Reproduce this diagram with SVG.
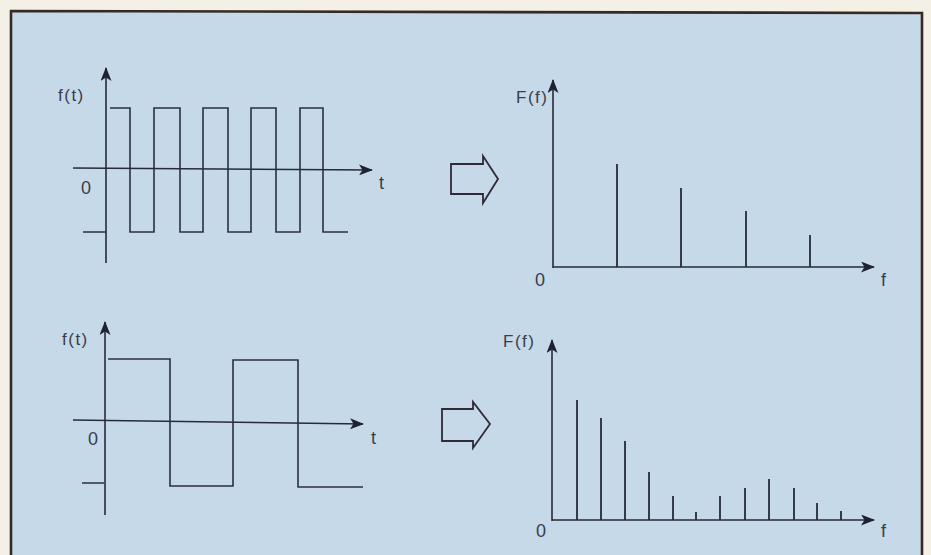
<svg xmlns="http://www.w3.org/2000/svg" width="931" height="555" viewBox="0 0 931 555">
<defs>
<marker id="ah" viewBox="0 0 14 11" refX="13" refY="5.5" markerWidth="14" markerHeight="11" markerUnits="userSpaceOnUse" orient="auto">
<path d="M0,0 L14,5.5 L0,11 L3.5,5.5 Z" fill="#1e2233"/>
</marker>
<style>
.ax{stroke:#262a3a;stroke-width:1.6;fill:none}
.sig{stroke:#2c2f44;stroke-width:1.6;fill:none}
.ln{stroke:#262a3a;stroke-width:1.8}
.big{stroke:#302a34;stroke-width:1.8;fill:none;stroke-linejoin:miter}
text{font-family:"Liberation Sans",Arial,sans-serif;fill:#3a3d48;font-size:17px}
.fn{letter-spacing:1.5px}
.lb{font-size:18px}
</style>
</defs>
<rect x="0" y="0" width="931" height="555" fill="#f4f0e6"/>
<path d="M11,11 L922,13 L922,555 L11,555 Z" fill="#c6d9e9"/>
<path d="M11,555 L11,11 L922,13 L922,555" fill="none" stroke="#352a24" stroke-width="2.6"/>

<g id="top-time">
<line class="ax" x1="106" y1="263" x2="106" y2="68" marker-end="url(#ah)"/>
<line class="ax" x1="73" y1="168" x2="372" y2="170" marker-end="url(#ah)"/>
<text class="fn" x="58" y="101">f(t)</text>
<text class="lb" x="81" y="194">0</text>
<text class="lb" x="379" y="189">t</text>
<path class="sig" d="M83,232 L106,232 M110,108 L130,108 L130,232 L154,232 L154,108 L180,108 L180,232 L203,232 L203,108 L228,108 L228,232 L251,232 L251,108 L276,108 L276,232 L300,232 L300,108 L323,108 L323,232 L348,232"/>
</g>

<g id="top-arrow">
<path class="big" d="M451,164 L483,164 L483,156 L498,179 L483,203 L483,194 L451,194 Z"/>
</g>

<g id="top-spectrum">
<line class="ax" x1="553" y1="268" x2="553" y2="80" marker-end="url(#ah)"/>
<line class="ax" x1="553" y1="267" x2="874" y2="267" marker-end="url(#ah)"/>
<text class="fn" x="516" y="103">F(f)</text>
<text class="lb" x="535" y="286">0</text>
<text class="lb" x="881" y="286">f</text>
<line class="ln" x1="617" y1="267" x2="617" y2="164"/>
<line class="ln" x1="681" y1="267" x2="681" y2="188"/>
<line class="ln" x1="746" y1="267" x2="746" y2="211"/>
<line class="ln" x1="810" y1="267" x2="810" y2="235"/>
</g>

<g id="bottom-time">
<line class="ax" x1="105" y1="515" x2="105" y2="322" marker-end="url(#ah)"/>
<line class="ax" x1="73" y1="420" x2="363" y2="424" marker-end="url(#ah)"/>
<text class="fn" x="62" y="345">f(t)</text>
<text class="lb" x="88" y="445">0</text>
<text class="lb" x="371" y="444">t</text>
<path class="sig" d="M82,483 L104,483 M108,359 L170,359 L170,486 L233,486 L233,360 L298,360 L298,487 L363,487"/>
</g>

<g id="bottom-arrow">
<path class="big" d="M442,409 L473,409 L473,402 L490,424 L473,448 L473,441 L442,441 Z"/>
</g>

<g id="bottom-spectrum">
<line class="ax" x1="552" y1="521" x2="552" y2="340" marker-end="url(#ah)"/>
<line class="ax" x1="552" y1="520" x2="874" y2="520" marker-end="url(#ah)"/>
<text class="fn" x="503" y="347">F(f)</text>
<text class="lb" x="536" y="537">0</text>
<text class="lb" x="881" y="537">f</text>
<line class="ln" x1="577" y1="520" x2="577" y2="400"/>
<line class="ln" x1="601" y1="520" x2="601" y2="418"/>
<line class="ln" x1="625" y1="520" x2="625" y2="441"/>
<line class="ln" x1="649" y1="520" x2="649" y2="472"/>
<line class="ln" x1="673" y1="520" x2="673" y2="496"/>
<line class="ln" x1="696" y1="520" x2="696" y2="512"/>
<line class="ln" x1="720" y1="520" x2="720" y2="496"/>
<line class="ln" x1="745" y1="520" x2="745" y2="488"/>
<line class="ln" x1="769" y1="520" x2="769" y2="479"/>
<line class="ln" x1="794" y1="520" x2="794" y2="488"/>
<line class="ln" x1="817" y1="520" x2="817" y2="503"/>
<line class="ln" x1="841" y1="520" x2="841" y2="511"/>
</g>
</svg>
